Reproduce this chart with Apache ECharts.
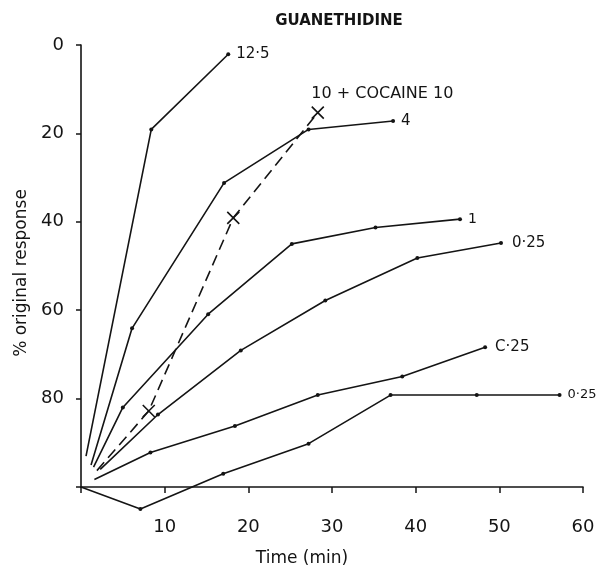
<!DOCTYPE html>
<html>
<head>
<meta charset="utf-8">
<script src="https://cdn.jsdelivr.net/npm/echarts@6/dist/echarts.min.js"></script>
<style>
  html, body { margin: 0; padding: 0; background: #fff; }
  #chart { width: 605px; height: 572px; }
</style>
</head>
<body>
<div id="chart"></div>
<script>
// Guanethidine: recovery of the response (% of original) against time, per dose
const xTicks = [10, 20, 30, 40, 50, 60];
const yTicks = [0, 20, 40, 60, 80];

const dose125Time = [0.6, 8.4, 17.6];
const dose125Resp = [93, 19.1, 2.1];

const dose4Time = [1.2, 6.1, 17.1, 27.2, 37.3];
const dose4Resp = [95, 64.1, 31.2, 19.1, 17.2];

const dose1Time = [1.5, 5.0, 15.2, 25.2, 35.2, 45.3];
const dose1Resp = [95.5, 82, 60.9, 45, 41.3, 39.4];

const dose025aTime = [2.3, 9.2, 19.1, 29.2, 40.2, 50.2];
const dose025aResp = [96, 83.6, 69.1, 57.8, 48.2, 44.8];

const doseC25Time = [1.6, 8.3, 18.4, 28.3, 38.4, 48.3];
const doseC25Resp = [98.3, 92.2, 86.2, 79.2, 75, 68.4];

const dose025bTime = [0, 7.1, 17.0, 27.2, 37.0, 47.3, 57.2];
const dose025bResp = [100, 105, 97, 90.2, 79.2, 79.2, 79.2];

const cocaineTime = [1.9, 8.1, 18.2, 28.3];
const cocaineResp = [96.3, 82.8, 39.1, 15.3];

const seriesNames = ['12·5', '4', '1', '0·25', 'C·25', '0·25', '10 + COCAINE 10'];

const FONT = 'DejaVu Sans';
const INK = '#141414';
const CROSS = 'path://M0,0L10,10M10,0L0,10';

function buildPoints(times, resps, labelText, labelSize, labelOpts) {
  return times.map((t, i) => {
    const item = { value: [t, resps[i]] };
    if (i === 0) item.symbol = 'none';
    if (i === times.length - 1) {
      item.label = Object.assign({
        show: true,
        formatter: labelText,
        position: 'right',
        distance: 6,
        fontSize: labelSize,
        fontFamily: FONT,
        color: INK
      }, labelOpts || {});
    }
    return item;
  });
}

function solidSeries(name, data) {
  return {
    name: name,
    type: 'line',
    data: data,
    clip: false,
    symbol: 'circle',
    symbolSize: 4,
    itemStyle: { color: INK },
    lineStyle: { color: INK, width: 1.6 },
    emphasis: { disabled: true },
    animation: false
  };
}

const series = [
  solidSeries(seriesNames[0], buildPoints(dose125Time, dose125Resp, seriesNames[0], 15)),
  solidSeries(seriesNames[1], buildPoints(dose4Time, dose4Resp, seriesNames[1], 15)),
  solidSeries(seriesNames[2], buildPoints(dose1Time, dose1Resp, seriesNames[2], 14)),
  solidSeries(seriesNames[3], buildPoints(dose025aTime, dose025aResp, seriesNames[3], 15, { distance: 9 })),
  solidSeries(seriesNames[4], buildPoints(doseC25Time, doseC25Resp, seriesNames[4], 15, { distance: 8 })),
  solidSeries(seriesNames[5], buildPoints(dose025bTime, dose025bResp, seriesNames[5], 13)),
  {
    name: seriesNames[6],
    type: 'line',
    data: buildPoints(cocaineTime, cocaineResp, seriesNames[6], 16, {
      position: [2, -10],
      align: 'left',
      verticalAlign: 'middle'
    }),
    clip: false,
    symbol: CROSS,
    symbolSize: 12,
    itemStyle: { color: 'none', borderColor: INK, borderWidth: 1.6 },
    lineStyle: { color: INK, width: 1.6, type: [11, 6] },
    emphasis: { disabled: true },
    animation: false
  }
];

const chart = echarts.init(document.getElementById('chart'));
chart.setOption({
  backgroundColor: '#fff',
  animation: false,
  title: {
    text: 'GUANETHIDINE',
    left: 334,
    textAlign: 'center',
    top: 9,
    textStyle: { fontFamily: FONT, fontSize: 15, fontWeight: 'bold', color: INK }
  },
  grid: { left: 81, right: 22, top: 45, bottom: 81 },
  xAxis: {
    type: 'value',
    min: 0,
    max: 60,
    interval: 10,
    name: 'Time (min)',
    nameLocation: 'middle',
    nameGap: 63,
    nameTextStyle: { fontFamily: FONT, fontSize: 17, color: INK, padding: [0, 60, 0, 0] },
    axisLine: { onZero: false, lineStyle: { color: INK, width: 1.6 } },
    axisTick: { show: true, length: 6, lineStyle: { color: INK, width: 1.5 } },
    axisLabel: {
      margin: 31,
      fontFamily: FONT,
      fontSize: 18,
      color: INK,
      formatter: v => (xTicks.includes(v) ? String(v) : '')
    },
    splitLine: { show: false }
  },
  yAxis: {
    type: 'value',
    inverse: true,
    min: 0,
    max: 100,
    interval: 20,
    name: '% original response',
    nameLocation: 'middle',
    nameGap: 50,
    nameRotate: 90,
    nameTextStyle: { fontFamily: FONT, fontSize: 17, color: INK, padding: [0, 14, 0, 0] },
    axisLine: { show: true, onZero: false, lineStyle: { color: INK, width: 1.6 } },
    axisTick: { show: true, length: 5, lineStyle: { color: INK, width: 1.5 } },
    axisLabel: {
      margin: 17,
      fontFamily: FONT,
      fontSize: 18,
      color: INK,
      formatter: v => (yTicks.includes(v) ? String(v) : '')
    },
    splitLine: { show: false }
  },
  series: series
});
</script>
</body>
</html>
